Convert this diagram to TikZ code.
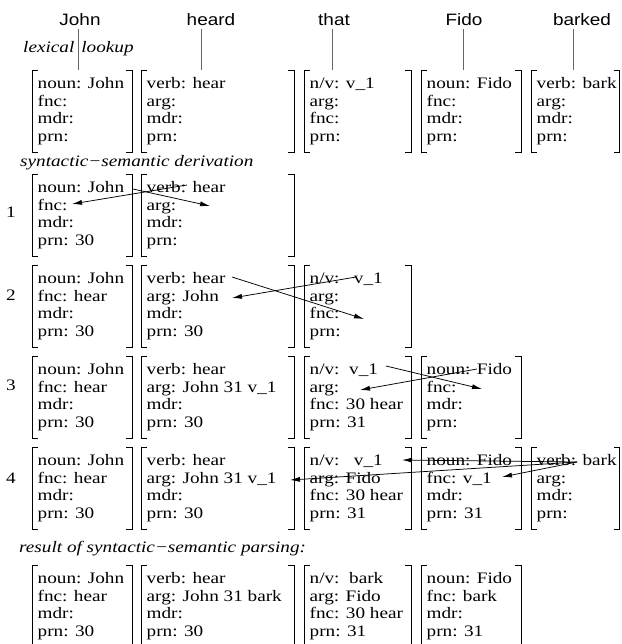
\documentclass[tikz,border=0pt]{standalone}
\usepackage{fontspec}
\setmainfont{Liberation Serif}[FakeStretch=1.2]
\newfontfamily\wsans{Liberation Sans}[FakeStretch=1.15]
\usetikzlibrary{arrows.meta}
\tikzset{
  brk/.style={line width=0.9pt, black},
  ln/.style={anchor=base west, inner sep=0pt, font=\fontsize{16}{18}\selectfont},
  lbl/.style={anchor=base west, inner sep=0pt, font=\fontsize{16}{18}\selectfont\itshape},
  word/.style={anchor=base, inner sep=0pt, font=\wsans\fontsize{16.5}{18}\selectfont},
  num/.style={anchor=base, inner sep=0pt, font=\fontsize{16}{18}\selectfont},
  stem/.style={line width=0.7pt, black!60},
  arr/.style={-{Latex[length=10pt,width=5pt]}, line width=0.75pt, black}
}
% #1 name, #2 left x, #3 right x, #4 top y, #5-#8 lines
\newcommand\fbx[8]{%
  \draw[brk] ({#2+6},{#4}) -- ({#2},{#4}) -- ({#2},{#4+82}) -- ({#2+6},{#4+82});
  \draw[brk] ({#3-6},{#4}) -- ({#3},{#4}) -- ({#3},{#4+82}) -- ({#3-6},{#4+82});
  \node[ln] (#1a) at ({#2+5.5},{#4+18.5}) {#5};
  \node[ln] (#1b) at ({#2+5.5},{#4+36.2}) {#6};
  \node[ln] (#1c) at ({#2+5.5},{#4+53.9}) {#7};
  \node[ln] (#1d) at ({#2+5.5},{#4+71.6}) {#8};
}
\begin{document}
\begin{tikzpicture}[x=1pt,y=-1pt]
\useasboundingbox (0,0) rectangle (621,644);
\fill[white] (0,0) rectangle (621,644);
% words
\node[word] (wJ) at (80,26) {John};
\node[word] (wH) at (211,26) {heard};
\node[word] (wT) at (334,26) {that};
\node[word] (wF) at (464,26) {Fido};
\node[word] (wB) at (582,26) {barked};
\coordinate (sJ1) at (78,29);  \coordinate (sJ2) at (78,70);
\coordinate (sH1) at (201,29); \coordinate (sH2) at (201,70);
\coordinate (sT1) at (332,29); \coordinate (sT2) at (332,70);
\coordinate (sF1) at (463,29); \coordinate (sF2) at (463,70);
\coordinate (sB1) at (573,29); \coordinate (sB2) at (573,70);
\foreach \s in {J,H,T,F,B} \draw[stem] (s\s1) -- (s\s2);
% labels
\node[lbl] (l1) at (23,53) {lexical\hspace{7pt}lookup};
\node[lbl] (l2) at (20,167) {syntactic−semantic derivation};
\node[lbl] (l3) at (19,552) {result of syntactic−semantic parsing:};
\node[num] (n1) at (11,217) {1};
\node[num] (n2) at (11,300.5) {2};
\node[num] (n3) at (11,390) {3};
\node[num] (n4) at (11,483.5) {4};
% row 0
\fbx{J0}{32}{132}{70}{noun: John}{fnc:}{mdr:}{prn:}
\fbx{H0}{141}{294}{70}{verb: hear}{arg:}{mdr:}{prn:}
\fbx{T0}{304}{411}{70}{n/v: v\_1}{arg:}{fnc:}{prn:}
\fbx{F0}{421}{521}{70}{noun: Fido}{fnc:}{mdr:}{prn:}
\fbx{B0}{531}{619.5}{70}{verb: bark}{arg:}{mdr:}{prn:}
% row 1
\fbx{J1}{32}{132}{174}{noun: John}{fnc:}{mdr:}{prn: 30}
\fbx{H1}{141}{294}{174}{verb: hear}{arg:}{mdr:}{prn:}
% row 2
\fbx{J2}{32}{132}{265}{noun: John}{fnc: hear}{mdr:}{prn: 30}
\fbx{H2}{141}{294}{265}{verb: hear}{arg: John}{mdr:}{prn: 30}
\fbx{T2}{304}{411}{265}{n/v:~~~v\_1}{arg:}{fnc:}{prn:}
% row 3
\fbx{J3}{32}{132}{356}{noun: John}{fnc: hear}{mdr:}{prn: 30}
\fbx{H3}{141}{294}{356}{verb: hear}{arg: John 31 v\_1}{mdr:}{prn: 30}
\fbx{T3}{304}{411}{356}{n/v:~~v\_1}{arg:}{fnc: 30 hear}{prn: 31}
\fbx{F3}{421}{521}{356}{noun: Fido}{fnc:}{mdr:}{prn:}
% row 4
\fbx{J4}{32}{132}{447}{noun: John}{fnc: hear}{mdr:}{prn: 30}
\fbx{H4}{141}{294}{447}{verb: hear}{arg: John 31 v\_1}{mdr:}{prn: 30}
\fbx{T4}{304}{411}{447}{n/v:~~~v\_1}{arg: Fido}{fnc: 30 hear}{prn: 31}
\fbx{F4}{421}{521}{447}{noun: Fido}{fnc: v\_1}{mdr:}{prn: 31}
\fbx{B4}{531}{619.5}{447}{verb: bark}{arg:}{mdr:}{prn:}
% row 5
\fbx{J5}{32}{132}{565}{noun: John}{fnc: hear}{mdr:}{prn: 30}
\fbx{H5}{141}{294}{565}{verb: hear}{arg: John 31 bark}{mdr:}{prn: 30}
\fbx{T5}{304}{411}{565}{n/v:~~bark}{arg: Fido}{fnc: 30 hear}{prn: 31}
\fbx{F5}{421}{521}{565}{noun: Fido}{fnc: bark}{mdr:}{prn: 31}
% arrow end points
\coordinate (a1s) at (133,189); \coordinate (a1e) at (210,206);
\coordinate (b1s) at (187,185); \coordinate (b1e) at (72,204);
\coordinate (a2s) at (232,277); \coordinate (a2e) at (364,319);
\coordinate (b2s) at (356,277); \coordinate (b2e) at (232,298);
\coordinate (a3s) at (386,366); \coordinate (a3e) at (482,389);
\coordinate (b3s) at (477,369); \coordinate (b3e) at (360,390);
\coordinate (c4s) at (577,462);
\coordinate (a4e) at (402,460);
\coordinate (b4e) at (290,480);
\coordinate (c4e) at (502,477);
\draw[arr] (a1s) -- (a1e);
\draw[arr] (b1s) -- (b1e);
\draw[arr] (a2s) -- (a2e);
\draw[arr] (b2s) -- (b2e);
\draw[arr] (a3s) -- (a3e);
\draw[arr] (b3s) -- (b3e);
\draw[arr] (c4s) -- (a4e);
\draw[arr] (c4s) -- (b4e);
\draw[arr] (c4s) -- (c4e);
\end{tikzpicture}
\end{document}
